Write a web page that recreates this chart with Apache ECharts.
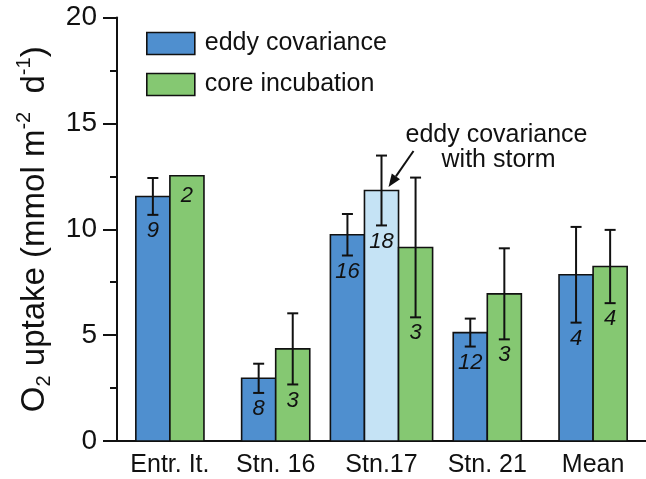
<!DOCTYPE html>
<html><head><meta charset="utf-8">
<script src="https://cdn.jsdelivr.net/npm/echarts@6/dist/echarts.min.js"></script>
<style>html,body{margin:0;padding:0;background:#fff}#c{width:646px;height:479px}</style>
</head><body><div id="c"></div>
<script>
const categories = ['Entr. It.', 'Stn. 16', 'Stn.17', 'Stn. 21', 'Mean'];
const yTicks = [0, 5, 10, 15, 20];
const eddyValues = [11.55, 2.96, 9.74, 5.12, 7.85];
const eddyErrors = [0.87, 0.69, 0.98, 0.66, 2.26];
const eddyCounts = [9, 8, 16, 12, 4];
const stormValues = [null, null, 11.83, null, null];
const stormErrors = [null, null, 1.65, null, null];
const stormCounts = [null, null, 18, null, null];
const coreValues = [12.53, 4.35, 9.14, 6.95, 8.24];
const coreErrors = [null, 1.68, 3.30, 2.15, 1.73];
const coreCounts = [2, 3, 3, 3, 4];

const FONT = "'Liberation Sans', Arial, sans-serif";
const INK = '#111';
const COLORS = { eddy: '#4f8fcf', storm: '#c5e3f5', core: '#85c872' };
const groups = [eddyValues, stormValues, coreValues];

function slot(cat, gi) {
  let n = 0, idx = 0;
  groups.forEach((g, k) => {
    if (g[cat] != null) { if (k < gi) idx++; n++; }
  });
  return { n, idx };
}

function makeData(values, errors, counts) {
  const out = [];
  values.forEach((v, i) => {
    if (v != null) out.push([i, v, errors[i] == null ? 0 : errors[i], counts[i]]);
  });
  return out;
}

function makeRender(gi, color) {
  return function (params, api) {
    const cat = api.value(0), v = api.value(1), err = api.value(2), cnt = api.value(3);
    const base = api.coord([cat, 0]);
    const top = api.coord([cat, v]);
    const bandW = api.size([1, 0])[0];
    const bw = bandW * 0.322;
    const s = slot(cat, gi);
    const x0 = base[0] - s.n * bw / 2 + s.idx * bw;
    const children = [{
      type: 'rect',
      shape: { x: x0, y: top[1], width: bw, height: base[1] - top[1] },
      style: { fill: color, stroke: INK, lineWidth: 1.6 }
    }];
    let labelY = top[1] + 20;
    if (err > 0) {
      const yt = api.coord([cat, v + err])[1];
      const yb = api.coord([cat, v - err])[1];
      const cx = x0 + bw / 2;
      const lw = 2;
      children.push({ type: 'line', shape: { x1: cx, y1: yt, x2: cx, y2: yb }, style: { stroke: INK, lineWidth: lw } });
      children.push({ type: 'line', shape: { x1: cx - 5.5, y1: yt, x2: cx + 5.5, y2: yt }, style: { stroke: INK, lineWidth: lw } });
      children.push({ type: 'line', shape: { x1: cx - 5.5, y1: yb, x2: cx + 5.5, y2: yb }, style: { stroke: INK, lineWidth: lw } });
      labelY = yb + 16;
    }
    children.push({
      type: 'text',
      style: {
        text: String(cnt), x: x0 + bw / 2, y: labelY,
        fill: INK, fontSize: 22, fontStyle: 'italic', fontFamily: FONT,
        align: 'center', verticalAlign: 'middle'
      }
    });
    return { type: 'group', children };
  };
}

const chart = echarts.init(document.getElementById('c'), null, { renderer: 'canvas' });
const option = {
  animation: false,
  backgroundColor: '#fff',
  grid: { left: 117, top: 17.5, width: 533, height: 423.5, containLabel: false },
  legend: {
    orient: 'vertical', left: 141, top: 26,
    itemWidth: 48, itemHeight: 22, itemGap: 16,
    selectedMode: false,
    textStyle: { fontSize: 25, fontFamily: FONT, color: INK, padding: [0, 0, 0, 5] },
    data: [
      { name: 'eddy covariance', icon: 'rect', itemStyle: { color: COLORS.eddy, borderColor: INK, borderWidth: 1.6 } },
      { name: 'core incubation', icon: 'rect', itemStyle: { color: COLORS.core, borderColor: INK, borderWidth: 1.6 } }
    ]
  },
  xAxis: {
    type: 'category', data: categories, boundaryGap: true,
    axisLine: { lineStyle: { color: INK, width: 2 } },
    axisTick: { length: 9, lineStyle: { color: INK, width: 2 } },
    axisLabel: { fontSize: 25, fontFamily: FONT, color: INK, margin: 12 },
    splitLine: { show: false }
  },
  yAxis: {
    type: 'value', min: yTicks[0], max: yTicks[yTicks.length - 1], interval: yTicks[1] - yTicks[0],
    name: '{b|O}{sub|2}{b| uptake (mmol m}{sup|-2}{b|  d}{sup|-1}{b|)}',
    nameLocation: 'middle', nameGap: 62,
    nameTextStyle: {
      fontSize: 33, fontFamily: FONT, color: INK,
      rich: {
        b: { fontSize: 33, fontFamily: FONT, color: INK, lineHeight: 40 },
        sub: { fontSize: 20, fontFamily: FONT, color: INK, lineHeight: 20, verticalAlign: 'bottom' },
        sup: { fontSize: 20, fontFamily: FONT, color: INK, lineHeight: 20, verticalAlign: 'top' }
      }
    },
    axisLine: { show: true, lineStyle: { color: INK, width: 2 } },
    axisTick: { show: true, length: 14, lineStyle: { color: INK, width: 2 } },
    minorTick: { show: true, splitNumber: 2, length: 7, lineStyle: { color: INK, width: 2 } },
    axisLabel: { fontSize: 28, fontFamily: FONT, color: INK, margin: 20 },
    splitLine: { show: false }
  },
  series: [
    { name: 'eddy covariance', type: 'custom', itemStyle: { color: COLORS.eddy }, renderItem: makeRender(0, COLORS.eddy), data: makeData(eddyValues, eddyErrors, eddyCounts), encode: { x: 0, y: 1 } },
    { name: 'eddy covariance with storm', type: 'custom', itemStyle: { color: COLORS.storm }, renderItem: makeRender(1, COLORS.storm), data: makeData(stormValues, stormErrors, stormCounts), encode: { x: 0, y: 1 } },
    { name: 'core incubation', type: 'custom', itemStyle: { color: COLORS.core }, renderItem: makeRender(2, COLORS.core), data: makeData(coreValues, coreErrors, coreCounts), encode: { x: 0, y: 1 } }
  ]
};
chart.setOption(option);

// annotation with arrow pointing at the storm bar
const stormIdx = stormValues.findIndex(v => v != null);
const tipPx = chart.convertToPixel({ gridIndex: 0 }, [stormIdx, stormValues[stormIdx]]);
const tip = [tipPx[0] + 7, tipPx[1] - 3.5];
const start = [tip[0] + 25, tip[1] - 36];
const dx = tip[0] - start[0], dy = tip[1] - start[1];
const len = Math.sqrt(dx * dx + dy * dy);
const ux = dx / len, uy = dy / len;
const hl = 13, hw = 5;
const bx = tip[0] - ux * hl, by = tip[1] - uy * hl;
chart.setOption({
  graphic: [
    { type: 'text', x: tipPx[0] + 115, y: 135, style: { text: 'eddy covariance', fill: INK, fontSize: 25, fontFamily: FONT, align: 'center', verticalAlign: 'middle' } },
    { type: 'text', x: tipPx[0] + 117, y: 160, style: { text: 'with storm', fill: INK, fontSize: 25, fontFamily: FONT, align: 'center', verticalAlign: 'middle' } },
    { type: 'line', shape: { x1: start[0], y1: start[1], x2: bx, y2: by }, style: { stroke: INK, lineWidth: 2 } },
    { type: 'polygon', shape: { points: [tip, [bx - uy * hw, by + ux * hw], [bx + uy * hw, by - ux * hw]] }, style: { fill: INK } }
  ]
});
</script></body></html>
